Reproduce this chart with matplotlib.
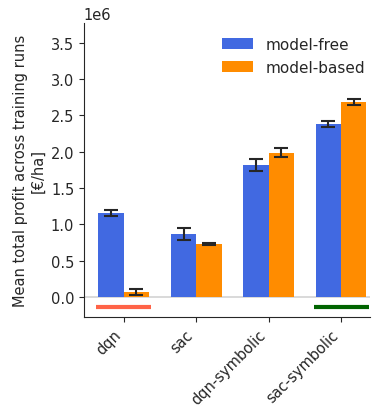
import numpy as np
import matplotlib
matplotlib.use('Agg')
import matplotlib.pyplot as plt

# Данные
algorithms = ['dqn', 'sac', 'dqn-symbolic', 'sac-symbolic']
model_free = [1.157e6, 0.87e6, 1.82e6, 2.38e6]
model_free_err = [0.04e6, 0.08e6, 0.08e6, 0.04e6]
model_based = [0.07e6, 0.73e6, 1.99e6, 2.68e6]
model_based_err = [0.04e6, 0.015e6, 0.06e6, 0.04e6]

# Отметки под группами (worst / best)
marker_groups = [0, 3]
marker_colors = ['tomato', 'darkgreen']

plt.rcParams.update({
    'font.size': 10.5,
    'legend.fontsize': 11,
    'text.color': '#262626',
    'axes.labelcolor': '#262626',
    'axes.edgecolor': '#262626',
    'xtick.color': '#262626',
    'ytick.color': '#262626',
})

fig = plt.figure(figsize=(3.73, 4.10), dpi=100)
ax = fig.add_axes([0.225, 0.224, 0.767, 0.717])

x = np.arange(len(algorithms))
w = 0.35
ax.bar(x - w / 2, model_free, w, yerr=model_free_err, capsize=5,
       color='royalblue', label='model-free', error_kw=dict(elinewidth=1.5, capthick=1.5, ecolor='#262626'))
ax.bar(x + w / 2, model_based, w, yerr=model_based_err, capsize=5,
       color='darkorange', label='model-based', error_kw=dict(elinewidth=1.5, capthick=1.5, ecolor='#262626'))

ax.axhline(0, color='lightgrey', linewidth=1.2, zorder=0)

for g, c in zip(marker_groups, marker_colors):
    ax.plot([g - 0.38, g + 0.38], [-0.13e6, -0.13e6], color=c, linewidth=3, solid_capstyle='butt')

ax.set_xticks(x)
ax.set_xticklabels(algorithms, rotation=45, ha='right')
ax.set_xlim(-0.55, 3.4)
ax.set_ylim(-0.275e6, 3.77e6)
ax.set_ylabel('Mean total profit across training runs\n[€/ha]')
ax.spines['top'].set_visible(False)
ax.spines['right'].set_visible(False)
ax.legend(frameon=False, loc='upper right', bbox_to_anchor=(1.03, 1.0))

plt.savefig('out.png', dpi=100)
